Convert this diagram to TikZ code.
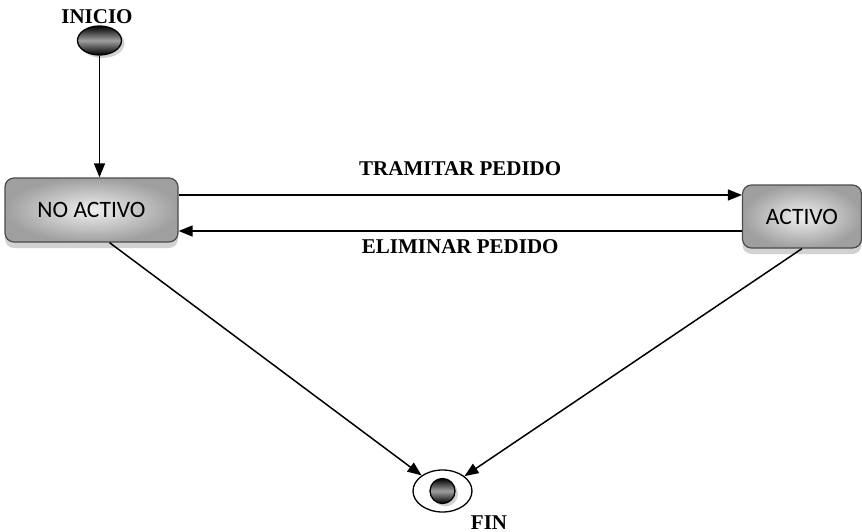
\documentclass[tikz,border=0pt]{standalone}
\usepackage{fontspec}
\setmainfont{Liberation Serif}
\newfontfamily\statefont{Carlito}
\usetikzlibrary{positioning, arrows.meta, shapes.geometric, shadows}

\begin{document}
\begin{tikzpicture}[x=1pt, y=-1pt,
  estado/.style={draw=gray!60!black, line width=1.2pt, rounded corners=9pt, shading=radial,
    inner color=gray!12, outer color=gray!75,
    drop shadow={shadow xshift=0pt, shadow yshift=-6pt, fill=gray!35, opacity=1},
    font=\statefont\fontsize{23.5}{26}\selectfont, inner sep=0pt},
  etiqueta/.style={font=\bfseries\fontsize{21}{23}\selectfont},
  flecha/.style={-{Triangle[length=14pt,width=11pt]}, line width=1.5pt},
  punto/.style={ellipse, draw=black, line width=1.3pt, top color=black, bottom color=black,
    middle color=gray!75, inner sep=0pt,
    drop shadow={shadow xshift=3pt, shadow yshift=-3pt, fill=gray!70}}]

\useasboundingbox (0,0) rectangle (862,532);

% --- Initial state ---
\node[etiqueta] (lblinicio) at (97,17) {INICIO};
\node[punto, minimum width=44pt, minimum height=29pt] (inicio) at (99.5,40.5) {};

% --- States ---
\node[estado, minimum width=173pt, minimum height=64pt] (noact) at (91.5,210) {NO ACTIVO};
\node[estado, minimum width=119pt, minimum height=63pt] (act) at (802,216.5) {ACTIVO};

% --- Final state ---
\node[ellipse, draw, line width=1.3pt, fill=white, minimum width=59pt, minimum height=42pt] (fin) at (442.5,491) {};
\node[punto, circle, minimum size=25pt] (finpunto) at (fin) {};
\node[etiqueta, anchor=base, inner sep=1pt] (lblfin) at (489,529) {FIN};

% --- Transitions ---
\draw[flecha] (inicio.south) -- (inicio.south |- noact.north);
\draw[flecha] ([yshift=15pt]noact.east) -- ([yshift=15pt]noact.east -| act.west)
  node[etiqueta, midway, above=15pt] (lbltramitar) {TRAMITAR PEDIDO};
\draw[flecha] ([yshift=-14.5pt]act.west) -- ([yshift=-14.5pt]act.west -| noact.east)
  node[etiqueta, midway, below=5pt] (lbleliminar) {ELIMINAR PEDIDO};
\draw[flecha] ([xshift=18pt]noact.south) -- (fin);
\draw[flecha] (act.south) -- (fin);

\end{tikzpicture}
\end{document}
